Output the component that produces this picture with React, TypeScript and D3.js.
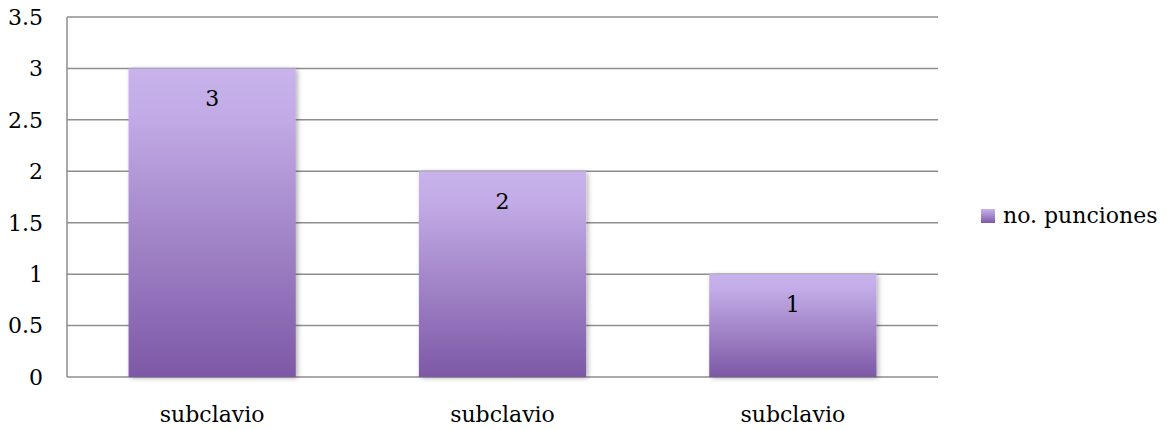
import React from "react";
import * as d3 from "d3";

const categories = ["subclavio", "subclavio", "subclavio"];
const values = [3, 2, 1];
const seriesName = "no. punciones";
const yTicks = [0, 0.5, 1, 1.5, 2, 2.5, 3, 3.5];

const W = 1167;
const H = 430;
const margin = { left: 67, right: 229, top: 17, bottom: 53 };
const FONT = "'DejaVu Serif', serif";

export default function App() {
  const x = d3
    .scaleBand<number>()
    .domain(d3.range(categories.length))
    .range([margin.left, W - margin.right])
    .paddingInner(0.424)
    .paddingOuter(0.212);
  const y = d3
    .scaleLinear()
    .domain([0, 3.5])
    .range([H - margin.bottom, margin.top]);
  const fmt = d3.format("~g");

  return (
    <svg
      width={W}
      height={H}
      style={{ position: "absolute", left: 0, top: 0, background: "#fff" }}
    >
      <defs>
        <linearGradient id="barGrad" x1="0" y1="0" x2="0" y2="1">
          <stop offset="0%" stopColor="#C8B3EC" />
          <stop offset="15%" stopColor="#C2ABE6" />
          <stop offset="100%" stopColor="#7D58A6" />
        </linearGradient>
        <linearGradient id="legGrad" x1="0" y1="0" x2="0" y2="1">
          <stop offset="0%" stopColor="#C8B3EC" />
          <stop offset="100%" stopColor="#7D58A6" />
        </linearGradient>
        <filter id="shadow" x="-10%" y="-10%" width="130%" height="130%">
          <feGaussianBlur in="SourceAlpha" stdDeviation="2.5" />
          <feOffset dx="2" dy="1" result="b" />
          <feComponentTransfer>
            <feFuncA type="linear" slope="0.3" />
          </feComponentTransfer>
          <feMerge>
            <feMergeNode />
            <feMergeNode in="SourceGraphic" />
          </feMerge>
        </filter>
      </defs>

      {/* gridlines */}
      {yTicks.map((t) => (
        <line
          key={"g" + t}
          x1={margin.left}
          x2={W - margin.right}
          y1={y(t)}
          y2={y(t)}
          stroke="#8E8E8E"
          strokeWidth={1.5}
        />
      ))}
      {/* value axis line */}
      <line
        x1={margin.left}
        x2={margin.left}
        y1={y(3.5)}
        y2={y(0)}
        stroke="#8E8E8E"
        strokeWidth={1.5}
      />

      {/* tick labels */}
      {yTicks.map((t) => (
        <text
          key={"t" + t}
          x={43}
          y={y(t)}
          dy="0.36em"
          textAnchor="end"
          fontFamily={FONT}
          fontSize={22}
          fill="#000"
        >
          {fmt(t)}
        </text>
      ))}

      {/* bars */}
      {values.map((v, i) => (
        <rect
          key={"b" + i}
          x={x(i)}
          y={y(v)}
          width={x.bandwidth()}
          height={y(0) - y(v)}
          fill="url(#barGrad)"
          filter="url(#shadow)"
        />
      ))}

      {/* data labels */}
      {values.map((v, i) => (
        <text
          key={"l" + i}
          x={(x(i) as number) + x.bandwidth() / 2}
          y={y(v) + 30}
          dy="0.36em"
          textAnchor="middle"
          fontFamily={FONT}
          fontSize={22}
          fill="#000"
        >
          {v}
        </text>
      ))}

      {/* category labels */}
      {categories.map((c, i) => (
        <text
          key={"c" + i}
          x={(x(i) as number) + x.bandwidth() / 2}
          y={422}
          textAnchor="middle"
          fontFamily={FONT}
          fontSize={22}
          fill="#000"
        >
          {c}
        </text>
      ))}

      {/* legend */}
      <rect x={981} y={209} width={14} height={14} fill="url(#legGrad)" />
      <text x={1003} y={223} fontFamily={FONT} fontSize={22} fill="#000">
        {seriesName}
      </text>
    </svg>
  );
}
